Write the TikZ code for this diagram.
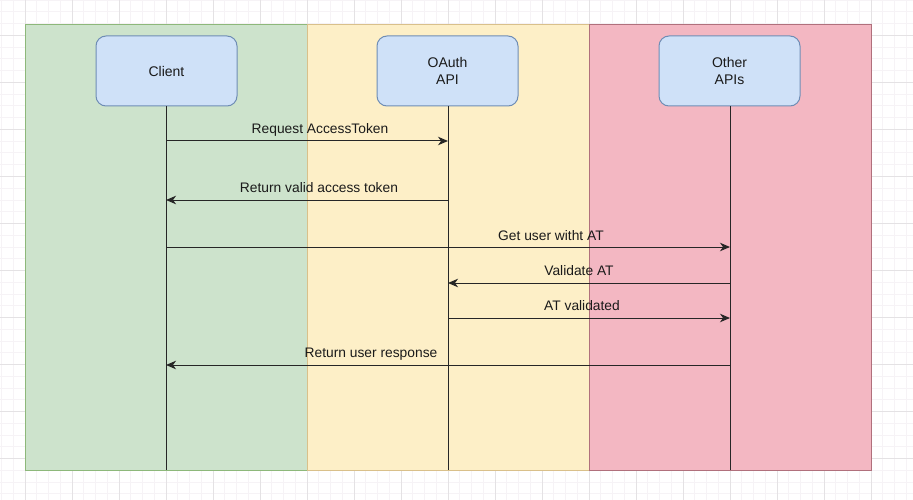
\documentclass[tikz,border=0pt]{standalone}
\usepackage{fontspec}
\setmainfont{Liberation Sans}
\usetikzlibrary{arrows.meta}
\definecolor{gridminor}{HTML}{F6F3F6}
\definecolor{gridmajor}{HTML}{E4E2E4}
\definecolor{greenfill}{HTML}{CDE3CC}
\definecolor{greenline}{HTML}{8DB87A}
\definecolor{yellowfill}{HTML}{FDEFC7}
\definecolor{yellowline}{HTML}{D9C08A}
\definecolor{pinkfill}{HTML}{F3B7C2}
\definecolor{pinkline}{HTML}{B0707C}
\definecolor{boxfill}{HTML}{CFE1F8}
\definecolor{boxline}{HTML}{6F8DB5}
\definecolor{inktext}{HTML}{1A1A1A}
\tikzset{
  lane/.style={draw, line width=0.9pt},
  actor/.style={draw=boxline, fill=boxfill, line width=1pt, rounded corners=10pt,
    minimum width=141pt, minimum height=70pt, inner sep=0pt, align=center,
    text=inktext, font=\fontsize{14}{16.5}\selectfont},
  lifeline/.style={draw=black!85, line width=1pt},
  msg/.style={draw=black!85, line width=1pt, -{Stealth[length=10pt,width=8.5pt,inset=3pt]}},
  lbl/.style={font=\fontsize{13.8}{16}\selectfont, text=inktext, inner sep=0pt, anchor=base}
}
\begin{document}
\begin{tikzpicture}[x=1pt,y=-1pt]
\useasboundingbox (0,0) rectangle (913,500);
\fill[white] (0,0) rectangle (913,500);
% grid
\foreach \i in {0,...,80} {
  \pgfmathsetmacro{\gx}{25-47+\i*11.75}
  \draw[gridminor, line width=0.6pt] (\gx,0) -- (\gx,500);
}
\foreach \i in {0,...,45} {
  \pgfmathsetmacro{\gy}{35.3-47+\i*11.75}
  \draw[gridminor, line width=0.6pt] (0,\gy) -- (913,\gy);
}
\foreach \i in {0,...,20} {
  \pgfmathsetmacro{\gx}{25-47+\i*47}
  \draw[gridmajor, line width=0.7pt] (\gx,0) -- (\gx,500);
}
\foreach \i in {0,...,11} {
  \pgfmathsetmacro{\gy}{35.3-47+\i*47}
  \draw[gridmajor, line width=0.7pt] (0,\gy) -- (913,\gy);
}
% lanes
\path[lane, fill=greenfill, draw=greenline] (25,24) rectangle (307,470);
\path[lane, fill=yellowfill, draw=yellowline] (307,24) rectangle (589,470);
\path[lane, fill=pinkfill, draw=pinkline] (589,24) rectangle (871,470);
% actors
\node[actor] (client) at (166.5,71) {Client};
\node[actor] (oauth) at (447.5,71) {OAuth\\API};
\node[actor] (other) at (729.5,71) {Other\\APIs};
% lifeline ends
\coordinate (cEnd) at (166,470);
\coordinate (oEnd) at (448,470);
\coordinate (xEnd) at (730,470);
\draw[lifeline] (client.south -| cEnd) -- (cEnd);
\draw[lifeline] (oauth.south -| oEnd) -- (oEnd);
\draw[lifeline] (other.south -| xEnd) -- (xEnd);
% messages
\coordinate (c1) at (166,141); \coordinate (o1) at (448,141);
\draw[msg] (c1) -- (o1);
\node[lbl] (l1) at (320,134) {Request AccessToken};
\coordinate (c2) at (166,200); \coordinate (o2) at (448,200);
\draw[msg] (o2) -- (c2);
\node[lbl] (l2) at (319,193) {Return valid access token};
\coordinate (c3) at (166,247); \coordinate (x3) at (730,247);
\draw[msg] (c3) -- (x3);
\node[lbl] (l3) at (551,240) {Get user witht AT};
\coordinate (o4) at (448,283); \coordinate (x4) at (730,283);
\draw[msg] (x4) -- (o4);
\node[lbl] (l4) at (579,275) {Validate AT};
\coordinate (o5) at (448,318); \coordinate (x5) at (730,318);
\draw[msg] (o5) -- (x5);
\node[lbl] (l5) at (582,310) {AT validated};
\coordinate (c6) at (166,365); \coordinate (x6) at (730,365);
\draw[msg] (x6) -- (c6);
\node[lbl] (l6) at (371,357) {Return user response};
\end{tikzpicture}
\end{document}
